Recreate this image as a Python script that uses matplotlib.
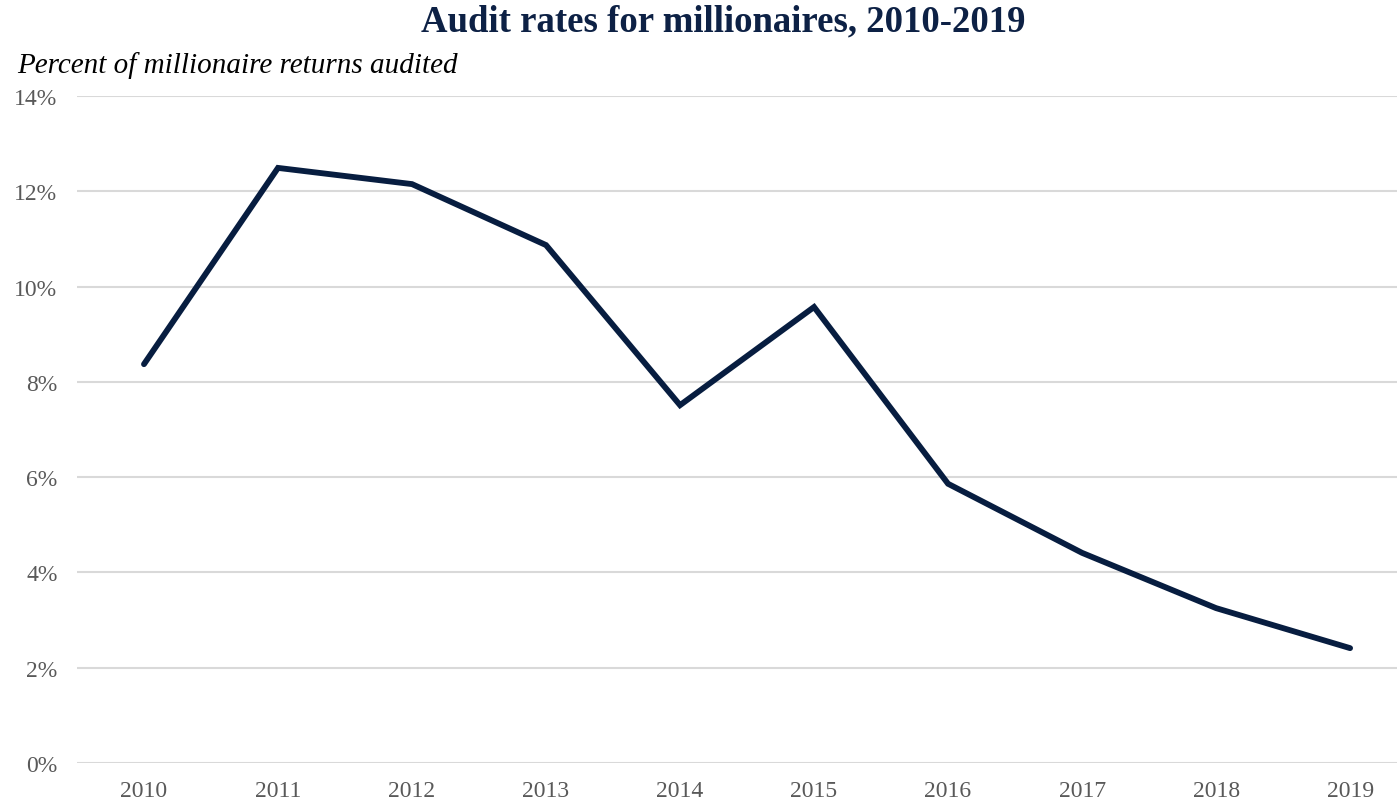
import matplotlib.pyplot as plt
from matplotlib.ticker import FuncFormatter

years = ['2010', '2011', '2012', '2013', '2014', '2015', '2016', '2017', '2018', '2019']
audit_rate = [8.37, 12.49, 12.15, 10.87, 7.51, 9.57, 5.86, 4.41, 3.25, 2.41]
yticks = [0, 2, 4, 6, 8, 10, 12, 14]

plt.rcParams['font.family'] = ['Liberation Serif', 'DejaVu Serif']

fig = plt.figure(figsize=(13.97, 8.04), dpi=100)
ax = fig.add_axes([0.0551, 0.0498, 0.9449, 0.8296])

x = list(range(len(years)))
ax.plot(x, audit_rate, color='#071d40', linewidth=4.2, solid_capstyle='round',
        solid_joinstyle='miter', zorder=3)

ax.set_xlim(-0.5, 9.35)
ax.set_ylim(0, 14)
ax.set_xticks(x)
ax.set_xticklabels(years)
ax.set_yticks(yticks)
ax.yaxis.set_major_formatter(FuncFormatter(lambda v, p: f'{v:.0f}%'))
ax.tick_params(axis='both', length=0, labelsize=17, labelcolor='#595959')
ax.tick_params(axis='x', pad=12)
ax.tick_params(axis='y', pad=14)
ax.grid(axis='y', color='#d9d9d9', linewidth=1.5)
ax.set_axisbelow(True)
for s in ax.spines.values():
    s.set_visible(False)

fig.text(0.518, 0.973, 'Audit rates for millionaires, 2010-2019', ha='center', va='center',
         fontsize=26.5, fontweight='bold', color='#0d2145')
fig.text(0.012, 0.919, 'Percent of millionaire returns audited', ha='left', va='center',
         fontsize=21, style='italic', color='black')

fig.savefig('out.png', dpi=100)
